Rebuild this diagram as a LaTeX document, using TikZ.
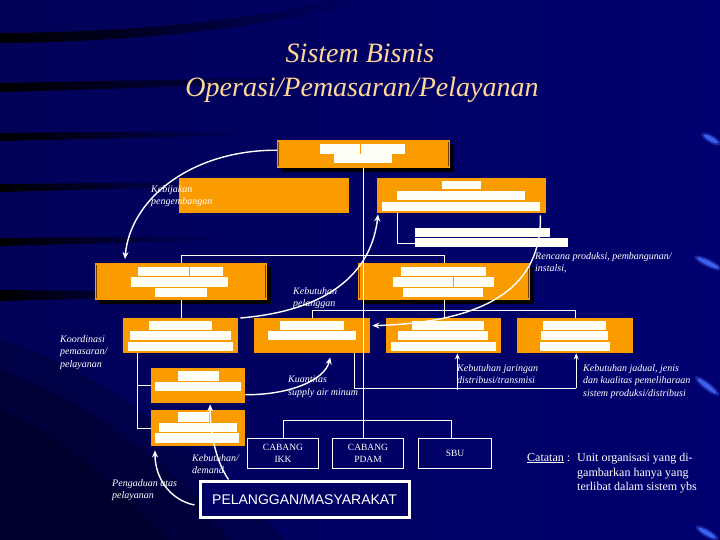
\documentclass[tikz,border=0pt]{standalone}
\usepackage{fontspec}
\setmainfont{Liberation Serif}
\newfontfamily\sansf{Liberation Sans}
\usetikzlibrary{arrows.meta,calc}
\definecolor{bgl}{RGB}{2,2,88}
\definecolor{bgr}{RGB}{0,0,112}
\definecolor{bgc}{RGB}{0,0,100}
\definecolor{org}{RGB}{250,155,0}
\definecolor{peach}{RGB}{255,214,150}
\definecolor{edgeb}{RGB}{120,62,0}
\definecolor{barw}{RGB}{255,255,246}
\definecolor{glint}{RGB}{70,110,255}
\newcommand{\wb}[4]{\fill[barw] (#1,#2) rectangle (#3,#4);}
\newcommand{\dv}[3]{\draw[org, line width=0.8pt] (#1,#2) -- (#1,#3);}
\newcommand{\glnt}[4]{%
  \fill[glint, opacity=0.35, rotate around={#3:(#1,#2)}] (#1,#2) ellipse (#4 and 4pt);
  \fill[glint, opacity=0.8, rotate around={#3:(#1,#2)}] (#1,#2) ellipse (#4-3pt and 2.2pt);}
\begin{document}
\begin{tikzpicture}[x=1pt,y=-1pt,
  obox/.style={fill=org, draw=none, inner sep=0pt, anchor=north west},
  wbox/.style={draw=white, line width=1pt, fill=none, inner sep=0pt, anchor=north west, text=white, font=\fontsize{9.5}{12}\selectfont, align=center},
  lbl/.style={text=white, font=\fontsize{10}{12.5}\selectfont\itshape, align=left, inner sep=0pt, anchor=north west},
  conn/.style={draw=white, line width=0.9pt},
  sarrow/.style={draw=white, line width=1.3pt, -{Stealth[length=6pt,width=5pt]}},
  carrow/.style={draw=white, line width=1.4pt, -{Stealth[length=7pt,width=6pt]}},
  ttl/.style={text=peach, font=\fontsize{28}{32}\selectfont\itshape, inner sep=0pt, anchor=base},
  shadowbox/.style={fill=black}
]
\useasboundingbox (0,0) rectangle (720,540);
% background
\shade[left color=bgl, right color=bgr] (0,0) rectangle (720,540);
\shade[left color=black, right color=bgc] (0,43) .. controls (150,42) and (290,24) .. (365,0) -- (330,0) .. controls (260,18) and (150,32) .. (0,33) -- cycle;
\shade[left color=black, right color=bgc] (0,83) .. controls (120,81) and (250,78) .. (330,75) -- (330,80) .. controls (250,84) and (120,89) .. (0,92) -- cycle;
\shade[left color=black, right color=bgc] (0,133) -- (260,131) -- (260,135) -- (0,141) -- cycle;
\shade[left color=black, right color=bgc] (0,184) -- (230,182) -- (230,186) -- (0,192) -- cycle;
\shade[left color=black, right color=bgc] (0,238) -- (230,236) -- (230,240) -- (0,246) -- cycle;
\shade[left color=black, right color=bgc] (0,290) -- (200,292) -- (200,296) -- (0,301) -- cycle;
\fill[black, opacity=0.2] (0,340) .. controls (100,365) and (210,460) .. (285,540) -- (0,540) -- cycle;
\fill[black, opacity=0.2] (0,370) .. controls (90,400) and (180,470) .. (230,540) -- (0,540) -- cycle;
\fill[black, opacity=0.2] (0,410) .. controls (70,440) and (130,500) .. (170,540) -- (0,540) -- cycle;
% glints
\glnt{711}{139}{-30}{11pt}
\glnt{708}{263}{-26}{15pt}
\glnt{707}{386}{-38}{15pt}
\glnt{707}{533}{-30}{13pt}

% title
\node[ttl] (t1) at (360,63) {Sistem Bisnis};
\node[ttl] (t2) at (362,97) {Operasi/Pemasaran/Pelayanan};

% shadows
\fill[shadowbox] (281,144) rectangle (454,172);
\fill[shadowbox] (99,267) rectangle (271,304);
\fill[shadowbox] (362,267) rectangle (534,304);

% boxes
\node[obox, minimum width=173pt, minimum height=28pt] (top) at (277,140) {};
\node[obox, minimum width=170pt, minimum height=35pt] (kebij) at (179,178) {};
\node[obox, minimum width=169pt, minimum height=35pt] (plan) at (377,178) {};
\node[obox, minimum width=172pt, minimum height=37pt] (r2L) at (95,263) {};
\node[obox, minimum width=172pt, minimum height=37pt] (r2R) at (358,263) {};
\node[obox, minimum width=115pt, minimum height=35pt] (bA) at (123,318) {};
\node[obox, minimum width=116pt, minimum height=35pt] (bB) at (254,318) {};
\node[obox, minimum width=115pt, minimum height=35pt] (bC) at (386,318) {};
\node[obox, minimum width=116pt, minimum height=35pt] (bD) at (517,318) {};
\node[obox, minimum width=94pt, minimum height=35pt] (bE) at (151,368) {};
\node[obox, minimum width=94pt, minimum height=36pt] (bF) at (151,410) {};
\coordinate (pn) at (415,243);

% edge lines
\foreach \b in {top,r2L,r2R}{
  \draw[edgeb, line width=1pt] ($(\b.north west)+(1.5,2)$) -- ($(\b.south west)+(1.5,-2)$);
  \draw[edgeb, line width=1pt] ($(\b.north east)+(-1.5,2)$) -- ($(\b.south east)+(-1.5,-2)$);
}

% white bars (masked text)
\wb{320}{144}{405}{154} \dv{360}{144}{154}
\wb{334}{154}{392}{163}
\wb{442}{181}{481}{189}
\wb{397}{191}{525}{200}
\wb{382}{202}{540}{211}
\wb{415}{228}{550}{237}
\wb{415}{238}{568}{247}
\wb{138}{267}{223}{276} \dv{189}{267}{276}
\wb{131}{277}{228}{287}
\wb{155}{288}{207}{297}
\wb{401}{267}{486}{276}
\wb{393}{277}{494}{287} \dv{453}{277}{287}
\wb{403}{288}{483}{297}
\wb{149}{321}{212}{330}
\wb{130}{331}{231}{340}
\wb{128}{342}{233}{351}
\wb{280}{321}{344}{330}
\wb{268}{331}{356}{340}
\wb{412}{321}{484}{330}
\wb{398}{331}{488}{340}
\wb{391}{342}{496}{351}
\wb{543}{321}{606}{330}
\wb{541}{331}{608}{340}
\wb{540}{342}{610}{351}
\wb{178}{371}{219}{381}
\wb{155}{382}{241}{391}
\wb{178}{412}{209}{422}
\wb{159}{423}{237}{432}
\wb{155}{433}{239}{443}

% outlined boxes
\node[wbox, minimum width=71pt, minimum height=30pt] (ikk) at (247,438) {CABANG\\IKK};
\node[wbox, minimum width=71pt, minimum height=30pt] (pdam) at (332,438) {CABANG\\PDAM};
\node[wbox, minimum width=73pt, minimum height=30pt] (sbu) at (418,438) {SBU};
\node[draw=white, line width=3pt, fill=bgc, inner sep=0pt, anchor=north west, minimum width=209pt, minimum height=36pt, text=white, font=\sansf\fontsize{14}{16}\selectfont] (pel) at (198.5,479.5) {PELANGGAN/MASYARAKAT};

% connectors
\draw[conn] ($(plan.south west)+(20,0)$) |- (pn);
\draw[conn] (r2L.north) -- ++(0,-8) -| (r2R.north);
\draw[conn] (r2L.south) -- (r2L.south |- bA.north);
\draw[conn] (r2R.south) -- (r2R.south |- bC.north);
\draw[conn] (bB.north) -- ++(0,-8) -| (bD.north);
\coordinate (ax) at ($(bA.south west)+(14,0)$);
\draw[conn] (ax) |- (bF.west);
\draw[conn] (ax |- bE.west) -- (bE.west);
\coordinate (bx) at ($(bB.south east)+(-16,0)$);
\coordinate (hr) at ($(bD.south)+(1,35)$);
\coordinate (hc) at ($(bC.south east)+(-44,37)$);
\draw[conn] (bx) |- (hr);
\draw[sarrow] (hr) -- (hr |- bD.south);
\draw[sarrow] (hc) -- (hc |- bC.south);
\draw[conn] (ikk.north) -- ++(0,-18) -| ($(sbu.north)+(-4,0)$);
\draw[conn] (top.south) -- (top.south |- pdam.north);

% curved arrows
\draw[carrow] ($(top.west)+(0,-4)$) .. controls (190,150) and (130,200) .. ($(r2L.north west)+(30,-4)$);
\draw[carrow] ($(bA.north east)+(2,0)$) .. controls (335,310) and (372,268) .. ($(plan.south west)+(1,1)$);
\draw[carrow] ($(plan.south east)+(-6,2)$) .. controls (542,285) and (490,322) .. ($(bB.east)+(2,-10)$);
\draw[carrow] ($(bE.east)+(0,9)$) .. controls (290,395) and (325,380) .. ($(bB.south)+(18,4)$);
\draw[carrow] ($(pel.north west)+(30,0)$) .. controls (215,460) and (210,430) .. ($(bE.south)+(12,1)$);
\draw[carrow] ($(pel.west)+(-4,6)$) .. controls (170,500) and (155,478) .. ($(bF.south west)+(4,4)$);

% labels
\node[lbl] (lkeb) at (151,185) {Kebijakan\\pengembangan};
\node[lbl] (lren) at (535,252) {Rencana produksi, pembangunan/\\instalsi,};
\node[lbl] (lpel) at (293,287) {Kebutuhan\\pelanggan};
\node[lbl] (lkoo) at (60,335) {Koordinasi\\pemasaran/\\pelayanan};
\node[lbl] (lkua) at (288,376) {Kuantitas\\supply air minum};
\node[lbl] (ljar) at (457,364) {Kebutuhan jaringan\\distribusi/transmisi};
\node[lbl] (ljad) at (583,364) {Kebutuhan jadual, jenis\\dan kualitas pemeliharaan\\sistem produksi/distribusi};
\node[lbl] (ldem) at (192,454) {Kebutuhan/\\demand};
\node[lbl] (lpen) at (112,479) {Pengaduan atas\\pelayanan};

% note
\node[text=white, font=\fontsize{12}{14.5}\selectfont, inner sep=0pt, anchor=north west] (cat) at (527,453) {\underline{Catatan} :};
\node[text=white, font=\fontsize{12}{14.5}\selectfont, inner sep=0pt, anchor=north west, align=left] (catb) at (577,453) {Unit organisasi yang di-\\gambarkan hanya yang\\terlibat dalam sistem ybs};
\end{tikzpicture}
\end{document}
